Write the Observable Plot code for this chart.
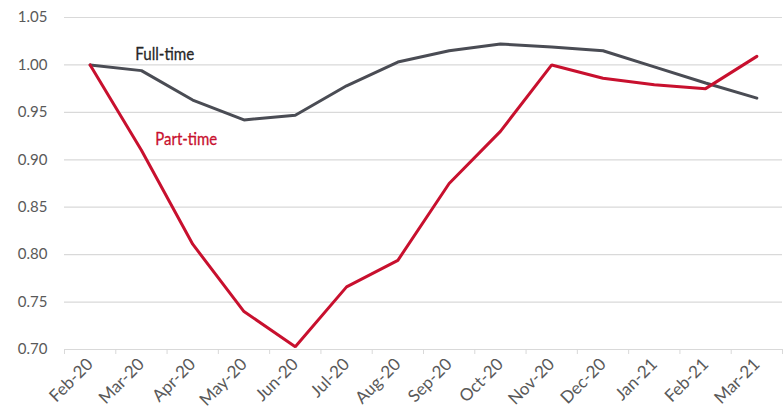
<!DOCTYPE html>
<html><head><meta charset="utf-8">
<script src="https://cdn.jsdelivr.net/npm/d3@7"></script>
<script src="https://cdn.jsdelivr.net/npm/@observablehq/plot@0.6"></script>
<style>body{margin:0;background:#fff}</style>
</head><body><div id="chart"></div>
<script>
const months = ["Feb-20","Mar-20","Apr-20","May-20","Jun-20","Jul-20","Aug-20","Sep-20","Oct-20","Nov-20","Dec-20","Jan-21","Feb-21","Mar-21"];
const fullTime = [1.000,0.994,0.963,0.942,0.947,0.978,1.003,1.015,1.022,1.019,1.015,0.998,0.981,0.965];
const partTime = [1.000,0.910,0.811,0.740,0.703,0.766,0.794,0.875,0.930,1.000,0.986,0.979,0.975,1.009];
const yTicks = [0.70,0.75,0.80,0.85,0.90,0.95,1.00,1.05];
const seriesNames = ["Full-time","Part-time"];
const colors = {"Full-time":"#4a4c54","Part-time":"#c8102e"};
const labelColors = {"Full-time":"#262626","Part-time":"#c8102e"};
const labelX = [0.88, 1.27];
const labelY = [1.0116, 0.922];

const rows = [];
months.forEach((m,i)=>{
  rows.push({i, s:"Full-time", v:fullTime[i]});
  rows.push({i, s:"Part-time", v:partTime[i]});
});
const labels = seriesNames.map((s,k)=>({s, x:labelX[k], y:labelY[k]}));
const bounds = d3.range(-0.5, months.length, 1);

const chart = Plot.plot({
  width: 783, height: 411,
  marginLeft: 64, marginRight: 1, marginTop: 17, marginBottom: 62,
  style: {fontFamily: "Lato, sans-serif", fontSize: "15px", color: "#595959", background: "#fff"},
  x: {type: "linear", domain: [-0.5, months.length - 0.5]},
  y: {domain: [0.70, 1.05]},
  marks: [
    Plot.gridY(yTicks, {stroke: "#d9d9d9", strokeOpacity: 1, strokeWidth: 1.2}),
    Plot.axisY({ticks: yTicks, tickSize: 0, tickPadding: 17, tickFormat: d3.format(".2f"), label: null}),
    Plot.axisX({ticks: bounds, tickSize: 5, tickFormat: () => "", stroke: "#d9d9d9", strokeOpacity: 1, label: null}),
    Plot.axisX({ticks: d3.range(months.length), tickSize: 0, tickPadding: 12, tickRotate: -45, tickFormat: i => months[i], label: null, fontSize: 17}),
    Plot.line(rows, {x: "i", y: "v", z: "s", stroke: d => colors[d.s], strokeWidth: 3, strokeLinejoin: "miter"}),
    Plot.text(labels, {x: "x", y: "y", text: "s", fill: d => labelColors[d.s], stroke: d => labelColors[d.s], strokeWidth: 0.3, textAnchor: "start", fontSize: 18, className: "serieslabel"})
  ]
});
d3.select(chart).selectAll(".serieslabel text")
  .attr("textLength", (d, k) => k === 0 ? 59 : 62)
  .attr("lengthAdjust", "spacingAndGlyphs");
document.getElementById("chart").append(chart);
</script>
</body></html>
